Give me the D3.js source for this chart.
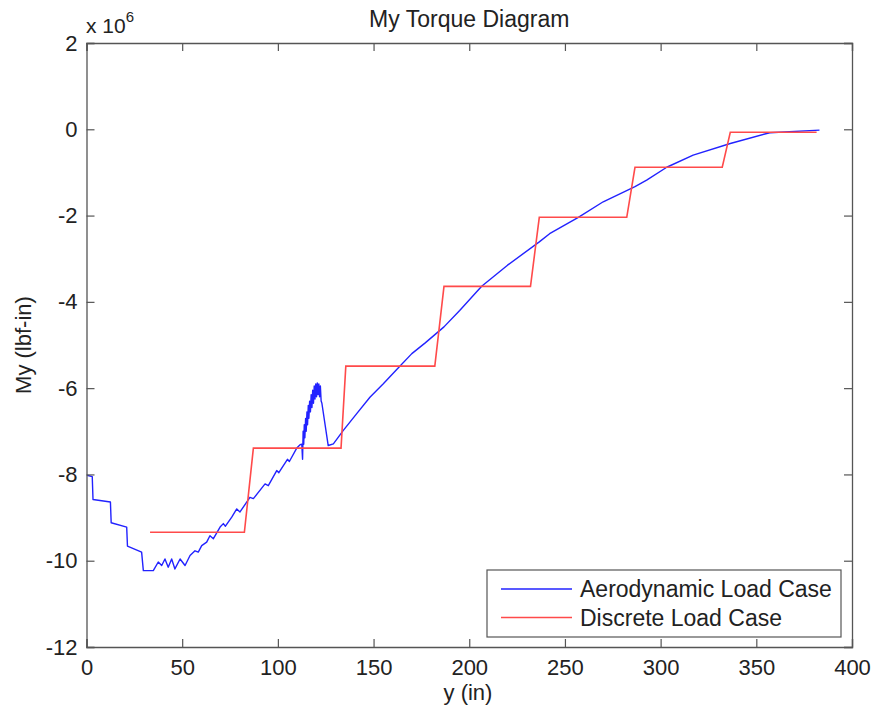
<!DOCTYPE html>
<html>
<head>
<meta charset="utf-8">
<script src="https://cdn.jsdelivr.net/npm/d3@7"></script>
<style>
  body { margin: 0; background: #fff; }
  text { font-family: "Liberation Sans", Arial, sans-serif; fill: #222; }
</style>
</head>
<body>
<div id="chart"></div>
<script>
// Aerodynamic load case: y (in), My (x 10^6 lbf-in)
const aeroX = [0.3, 3, 3.4, 12.5, 12.9, 21, 21.4, 28.8, 29.7, 34.9,
  37.5, 39.3, 41.0, 42.7, 44.5, 46.2, 48.9, 51.5, 54.1, 56.7, 58.4, 60.2,
  62.8, 64.5, 66.3, 69.8, 71.5, 72.6, 75.9, 78.5, 80.2, 85.4, 87.2, 93.3,
  95, 99.4, 100.5, 105, 106, 110, 111.6,
  112.5, 112.9, 113.2, 113.5, 113.8, 114.1, 114.5, 114.8, 115.2, 115.5, 115.9,
  116.2, 116.6, 117, 117.4, 117.8, 118.2, 118.6, 119, 119.4, 119.8, 120.2,
  120.6, 121, 121.4, 121.8, 122.2, 122.6, 123, 126.3,
  129, 134.2, 141.2, 148.1, 155.1, 162.1, 170, 177, 186.8, 195, 206.5, 220,
  236.6, 242, 257, 270, 286.6, 292.7, 303.2, 317, 336.4, 357, 383];
const aeroMy = [-8.02, -8.05, -8.58, -8.64, -9.12, -9.22, -9.66, -9.8, -10.23, -10.23,
  -10.03, -10.11, -9.96, -10.15, -9.96, -10.19, -9.96, -10.11, -9.88, -9.77, -9.8, -9.65,
  -9.57, -9.42, -9.49, -9.22, -9.14, -9.2, -8.99, -8.8, -8.87, -8.53, -8.56, -8.22,
  -8.26, -7.91, -7.96, -7.65, -7.7, -7.38, -7.31,
  -7.3, -7.65, -7.0, -7.3, -6.85, -7.15, -6.7, -7.0, -6.55, -6.85, -6.4,
  -6.7, -6.3, -6.55, -6.15, -6.45, -6.05, -6.35, -5.95, -6.25, -5.9, -6.2,
  -5.88, -6.15, -5.9, -6.2, -5.95, -6.3, -6.35, -7.33,
  -7.29, -6.98, -6.59, -6.21, -5.9, -5.57, -5.2, -4.95, -4.58, -4.2, -3.64, -3.15,
  -2.61, -2.42, -2.04, -1.68, -1.33, -1.18, -0.88, -0.6, -0.33, -0.08, -0.02];

// Discrete load case
const discX = [33.2, 82.5, 87.2, 133, 135.5, 182, 186.8, 232, 236.6, 282.3, 286.6, 332.2, 336.4, 381.5];
const discMy = [-9.34, -9.34, -7.39, -7.39, -5.49, -5.49, -3.64, -3.64, -2.04, -2.04, -0.88, -0.88, -0.07, -0.07];

const xTicks = [0, 50, 100, 150, 200, 250, 300, 350, 400];
const yTicks = [2, 0, -2, -4, -6, -8, -10, -12];
const seriesNames = ["Aerodynamic Load Case", "Discrete Load Case"];
const seriesColors = ["#2222ff", "#ff4a4a"];

const W = 875, H = 713;
const margin = { left: 86.5, top: 43, right: 23, bottom: 66 };
const iw = W - margin.left - margin.right;
const ih = H - margin.top - margin.bottom;

const svg = d3.select("#chart").append("svg")
  .attr("width", W).attr("height", H);

const g = svg.append("g")
  .attr("transform", `translate(${margin.left},${margin.top})`);

const x = d3.scaleLinear().domain([0, 400]).range([0, iw]);
const y = d3.scaleLinear().domain([-12, 2]).range([ih, 0]);

// lines
const line = d3.line().x(d => x(d[0])).y(d => y(d[1]));
const aero = aeroX.map((v, i) => [v, aeroMy[i]]);
const disc = discX.map((v, i) => [v, discMy[i]]);

g.append("path").datum(aero)
  .attr("d", line).attr("fill", "none")
  .attr("stroke", seriesColors[0]).attr("stroke-width", 1.4)
  .attr("stroke-linejoin", "round");

g.append("path").datum(disc)
  .attr("d", line).attr("fill", "none")
  .attr("stroke", seriesColors[1]).attr("stroke-width", 1.6);

// axes, MATLAB style: ticks inside, box around
const axisColor = "#555";
const xAxisB = g.append("g").attr("transform", `translate(0,${ih})`)
  .call(d3.axisBottom(x).tickValues(xTicks).tickSize(-8).tickPadding(12));
const xAxisT = g.append("g")
  .call(d3.axisTop(x).tickValues(xTicks).tickSize(-8).tickFormat(""));
const yAxisL = g.append("g")
  .call(d3.axisLeft(y).tickValues(yTicks).tickSize(-8).tickPadding(9)
    .tickFormat(d3.format("d")));
const yAxisR = g.append("g").attr("transform", `translate(${iw},0)`)
  .call(d3.axisRight(y).tickValues(yTicks).tickSize(-8).tickFormat(""));

[xAxisB, xAxisT, yAxisL, yAxisR].forEach(a => {
  a.select(".domain").attr("stroke", axisColor).attr("stroke-width", 1.3);
  a.selectAll(".tick line").attr("stroke", axisColor).attr("stroke-width", 1.2);
  a.selectAll(".tick text").style("font-size", "22px")
    .style("font-family", "'Liberation Sans', Arial, sans-serif").attr("fill", "#222");
});
yAxisL.selectAll(".tick text").text(d => d < 0 ? "-" + Math.abs(d) : d);

// exponent label
const ex = svg.append("text").attr("x", 86).attr("y", 33).style("font-size", "21px");
ex.append("tspan").text("x 10");
ex.append("tspan").attr("dy", -11).style("font-size", "15px").text("6");

// title and axis labels
svg.append("text").attr("x", margin.left + iw / 2).attr("y", 27)
  .attr("text-anchor", "middle").style("font-size", "23px").text("My Torque Diagram");
svg.append("text").attr("x", 468).attr("y", 700)
  .attr("text-anchor", "middle").style("font-size", "22px").text("y (in)");
svg.append("text")
  .attr("transform", `translate(31,${margin.top + ih / 2}) rotate(-90)`)
  .attr("text-anchor", "middle").style("font-size", "22px").text("My (lbf-in)");

// legend
const lg = svg.append("g").attr("transform", "translate(487,570)");
lg.append("rect").attr("width", 354).attr("height", 67)
  .attr("fill", "#fff").attr("stroke", axisColor).attr("stroke-width", 1.2);
seriesNames.forEach((name, i) => {
  const yy = 19 + i * 28.5;
  lg.append("line").attr("x1", 14).attr("x2", 85).attr("y1", yy).attr("y2", yy)
    .attr("stroke", seriesColors[i]).attr("stroke-width", 1.6);
  lg.append("text").attr("x", 93).attr("y", yy + 8)
    .style("font-size", "23px").text(name);
});
</script>
</body>
</html>
